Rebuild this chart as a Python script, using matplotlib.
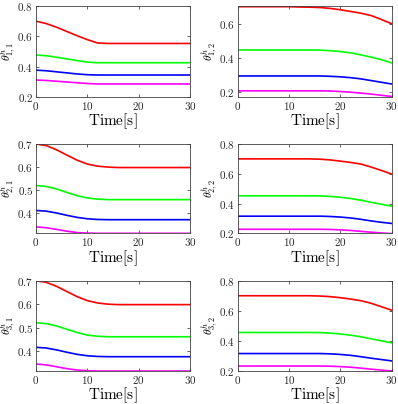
import matplotlib
matplotlib.use('Agg')
import matplotlib.pyplot as plt
import numpy as np

plt.rcParams['mathtext.fontset'] = 'cm'
plt.rcParams['font.family'] = 'serif'
plt.rcParams['font.serif'] = ['DejaVu Serif']

# time samples (s)
t = np.arange(0, 31, 2)

# panel (1,1)
red_11 = [0.700, 0.684, 0.660, 0.632, 0.604, 0.578, 0.556, 0.553, 0.553, 0.553, 0.553, 0.553, 0.553, 0.553, 0.553, 0.553]
green_11 = [0.477, 0.472, 0.462, 0.451, 0.440, 0.430, 0.426, 0.426, 0.426, 0.426, 0.426, 0.426, 0.426, 0.426, 0.426, 0.426]
blue_11 = [0.377, 0.373, 0.366, 0.359, 0.352, 0.347, 0.345, 0.345, 0.345, 0.345, 0.345, 0.345, 0.345, 0.345, 0.345, 0.345]
mag_11 = [0.312, 0.309, 0.304, 0.299, 0.294, 0.289, 0.286, 0.286, 0.286, 0.286, 0.286, 0.286, 0.286, 0.286, 0.286, 0.286]

# panel (1,2)
red_12 = [0.700, 0.700, 0.700, 0.700, 0.700, 0.700, 0.698, 0.697, 0.695, 0.690, 0.682, 0.672, 0.662, 0.648, 0.625, 0.600]
green_12 = [0.447, 0.447, 0.447, 0.447, 0.447, 0.447, 0.447, 0.447, 0.446, 0.443, 0.438, 0.430, 0.418, 0.405, 0.390, 0.371]
blue_12 = [0.295, 0.295, 0.295, 0.295, 0.295, 0.295, 0.295, 0.295, 0.295, 0.293, 0.290, 0.285, 0.278, 0.268, 0.258, 0.248]
mag_12 = [0.208, 0.208, 0.208, 0.208, 0.208, 0.208, 0.208, 0.208, 0.208, 0.207, 0.204, 0.200, 0.195, 0.189, 0.182, 0.175]

# panel (2,1)
red_21 = [0.700, 0.693, 0.675, 0.652, 0.630, 0.613, 0.604, 0.600, 0.598, 0.598, 0.598, 0.598, 0.598, 0.598, 0.598, 0.598]
green_21 = [0.520, 0.516, 0.505, 0.490, 0.476, 0.466, 0.461, 0.459, 0.459, 0.459, 0.459, 0.459, 0.459, 0.459, 0.459, 0.459]
blue_21 = [0.412, 0.409, 0.401, 0.391, 0.382, 0.376, 0.373, 0.372, 0.372, 0.372, 0.372, 0.372, 0.372, 0.372, 0.372, 0.372]
mag_21 = [0.341, 0.337, 0.330, 0.322, 0.316, 0.314, 0.313, 0.313, 0.313, 0.313, 0.313, 0.313, 0.313, 0.313, 0.313, 0.313]

# panel (2,2)
red_22 = [0.700, 0.700, 0.700, 0.700, 0.700, 0.700, 0.700, 0.700, 0.698, 0.693, 0.685, 0.676, 0.665, 0.645, 0.622, 0.598]
green_22 = [0.452, 0.452, 0.452, 0.452, 0.452, 0.452, 0.452, 0.452, 0.451, 0.448, 0.442, 0.434, 0.422, 0.408, 0.395, 0.382]
blue_22 = [0.315, 0.315, 0.315, 0.315, 0.315, 0.315, 0.315, 0.315, 0.315, 0.313, 0.309, 0.303, 0.294, 0.283, 0.274, 0.266]
mag_22 = [0.227, 0.227, 0.227, 0.227, 0.227, 0.227, 0.227, 0.227, 0.227, 0.226, 0.223, 0.219, 0.213, 0.207, 0.202, 0.198]

# panel (3,1)
red_31 = [0.700, 0.693, 0.676, 0.654, 0.632, 0.615, 0.605, 0.600, 0.598, 0.598, 0.598, 0.598, 0.598, 0.598, 0.598, 0.598]
green_31 = [0.521, 0.517, 0.507, 0.493, 0.479, 0.468, 0.463, 0.461, 0.461, 0.461, 0.461, 0.461, 0.461, 0.461, 0.461, 0.461]
blue_31 = [0.416, 0.413, 0.405, 0.395, 0.386, 0.380, 0.377, 0.376, 0.376, 0.376, 0.376, 0.376, 0.376, 0.376, 0.376, 0.376]
mag_31 = [0.345, 0.341, 0.333, 0.325, 0.319, 0.316, 0.315, 0.315, 0.315, 0.315, 0.315, 0.315, 0.315, 0.315, 0.315, 0.315]

# panel (3,2)
red_32 = [0.700, 0.700, 0.700, 0.700, 0.700, 0.700, 0.700, 0.700, 0.698, 0.694, 0.687, 0.678, 0.667, 0.650, 0.627, 0.604]
green_32 = [0.456, 0.456, 0.456, 0.456, 0.456, 0.456, 0.456, 0.456, 0.455, 0.452, 0.446, 0.438, 0.427, 0.414, 0.400, 0.387]
blue_32 = [0.316, 0.316, 0.316, 0.316, 0.316, 0.316, 0.316, 0.316, 0.316, 0.314, 0.310, 0.304, 0.295, 0.285, 0.276, 0.267]
mag_32 = [0.233, 0.233, 0.233, 0.233, 0.233, 0.233, 0.233, 0.233, 0.233, 0.232, 0.229, 0.225, 0.219, 0.212, 0.206, 0.200]

panels = [
    ('1,1', [red_11, green_11, blue_11, mag_11], (0.2, 0.8), [0.2, 0.4, 0.6, 0.8]),
    ('1,2', [red_12, green_12, blue_12, mag_12], (0.172, 0.704), [0.2, 0.4, 0.6]),
    ('2,1', [red_21, green_21, blue_21, mag_21], (0.313, 0.7), [0.4, 0.5, 0.6, 0.7]),
    ('2,2', [red_22, green_22, blue_22, mag_22], (0.2, 0.8), [0.2, 0.4, 0.6, 0.8]),
    ('3,1', [red_31, green_31, blue_31, mag_31], (0.315, 0.7), [0.4, 0.5, 0.6, 0.7]),
    ('3,2', [red_32, green_32, blue_32, mag_32], (0.2, 0.8), [0.2, 0.4, 0.6, 0.8]),
]
colors = ['#ff0000', '#00ff00', '#0000ff', '#ff00ff']

W, H = 398, 404
fig = plt.figure(figsize=(W / 100, H / 100), dpi=100)

lefts = [36, 237.7]
rows = [(6, 97), (144, 233.3), (280.7, 371)]
width = 154

for k, (name, series, ylim, yticks) in enumerate(panels):
    r, c = divmod(k, 2)
    top, bot = rows[r]
    ax = fig.add_axes([lefts[c] / W, 1 - bot / H, width / W, (bot - top) / H])
    for vals, col in zip(series, colors):
        ax.plot(t, vals, color=col, lw=1.2)
    ax.set_xlim(0, 30)
    ax.set_ylim(*ylim)
    ax.set_xticks([0, 10, 20, 30])
    ax.set_yticks(yticks)
    ax.set_xticklabels(['$%d$' % v for v in [0, 10, 20, 30]])
    ax.set_yticklabels(['$%.1f$' % v for v in yticks])
    ax.tick_params(direction='in', top=True, right=True, length=2.5, width=0.5,
                   labelsize=8, colors='#262626', pad=2)
    for s in ax.spines.values():
        s.set_linewidth(0.6)
        s.set_color('#404040')
    ax.set_xlabel(r'$\mathrm{Time[s]}$', fontsize=11, labelpad=0)
    ax.set_ylabel(r'$\theta^{h}_{%s}$' % name, fontsize=8.5)
    ax.yaxis.set_label_coords(-0.115, 0.5)

fig.savefig('out.png', dpi=100)
